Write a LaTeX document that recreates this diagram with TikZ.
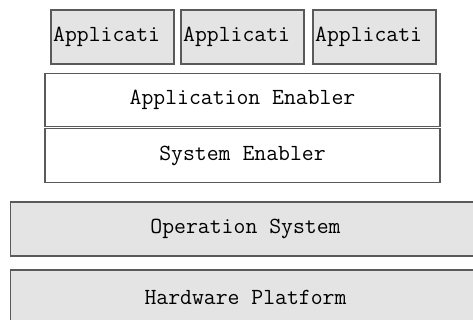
\documentclass[tikz,border=0pt]{standalone}
\usepackage{tikz}

\begin{document}
\begin{tikzpicture}[x=0.75pt,y=-0.75pt,
  layer/.style={draw=layerEdge,line width=0.9pt,rectangle,inner sep=0pt,
    font=\ttfamily\fontsize{17.3}{19}\selectfont},
  appbox/.style={layer,fill=layerGray,minimum width=92.25pt,minimum height=40.5pt,
    text width=89pt,align=left},
  enabler/.style={layer,fill=white,minimum width=296.25pt,minimum height=40pt},
  base/.style={layer,fill=layerGray,minimum width=352pt,minimum height=40.5pt}]
\definecolor{layerGray}{HTML}{E4E4E4}
\definecolor{layerEdge}{HTML}{5A5A5A}
\useasboundingbox (0,0) rectangle (473,320);
\clip (0,0) rectangle (473,320);
% application boxes
\foreach \x/\name in {112.5/appA,242.5/appB,374.5/appC} {
  \node[appbox] (\name) at (\x,37) {Applicati};
}
% middle layers
\node[enabler] (appEnabler) at (242.5,100) {Application Enabler};
\node[enabler] (sysEnabler) at (242.5,155.5) {System Enabler};
% platform layers
\node[base] (opSystem) at (245.5,229) {Operation System};
\node[base] (hwPlatform) at (245.5,297) {Hardware Platform};
\end{tikzpicture}
\end{document}
